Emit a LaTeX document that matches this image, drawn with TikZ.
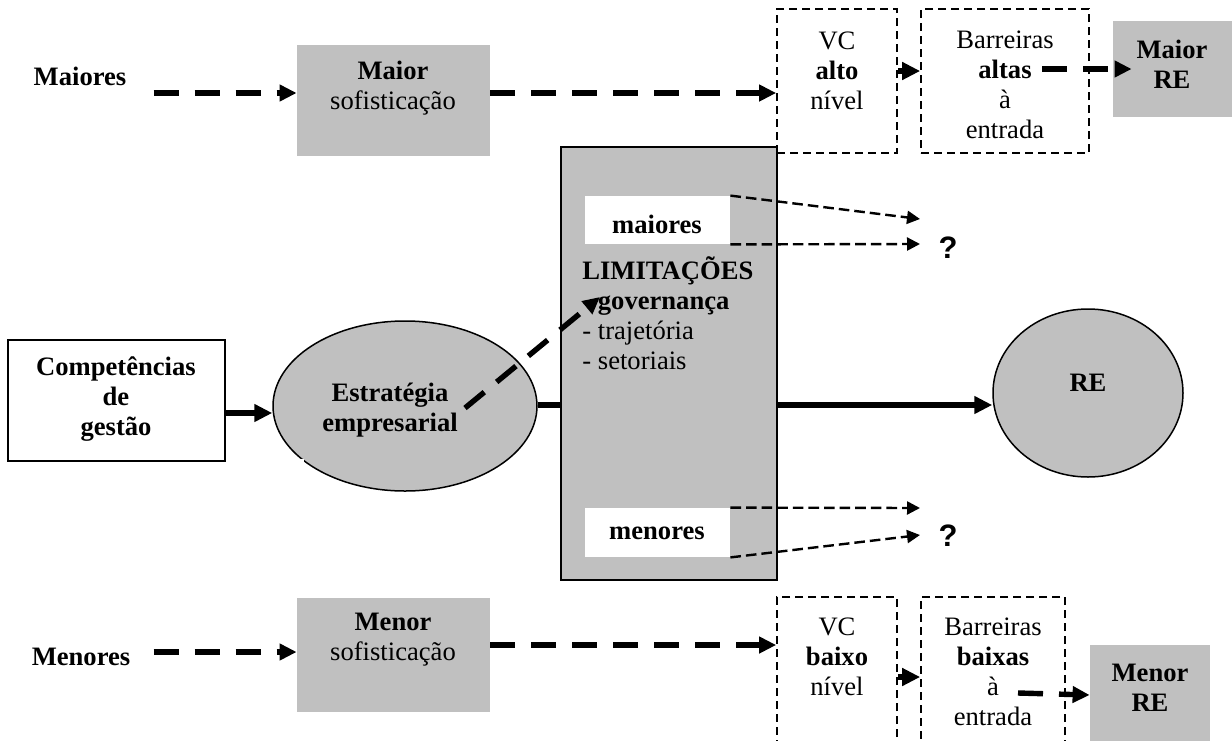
\documentclass[tikz,border=0pt]{standalone}
\usepackage{fontspec}
\setmainfont{Liberation Serif}
\newfontfamily\qfont{Liberation Sans}
\usetikzlibrary{arrows.meta,calc,fit,shapes.geometric}
\definecolor{boxgray}{HTML}{C0C0C0}
\tikzset{
  lbl/.style={inner sep=0pt, align=center, font=\fontsize{13.3}{15}\selectfont},
  blbl/.style={lbl, font=\fontsize{13.3}{15}\selectfont\bfseries},
  qmark/.style={inner sep=0pt, font=\qfont\fontsize{15.5}{18}\selectfont\bfseries},
  graybox/.style={fill=boxgray, inner sep=0pt},
  framebox/.style={draw, line width=1pt, inner sep=0pt},
  dashbox/.style={draw, line width=0.85pt, dash pattern=on 4pt off 2.5pt, inner sep=0pt},
  whitebox/.style={fill=white, inner sep=0pt},
  bolddash/.style={line width=2.7pt, dash pattern=on 12.5pt off 8pt,
    -{Triangle[length=8.5pt,width=8pt]}},
  solidarrow/.style={line width=2.6pt, -{Triangle[length=9pt,width=8.5pt]}},
  thinarrow/.style={line width=1.2pt, dash pattern=on 5.3pt off 2.5pt,
    -{Triangle[length=6.5pt,width=6.5pt]}},
  oval/.style={ellipse, draw, line width=0.75pt, fill=boxgray, inner sep=0pt},
}
\begin{document}
\begin{tikzpicture}[x=0.5pt,y=-0.5pt]
\clip (0,0) rectangle (1232,740);

% ---------- upper row ----------
\node[blbl] (maioresl) at (80,76) {Maiores};
\node[graybox, fit={(297,45)(490,156)}] (maiorbox) {};
\node[lbl] at (393,88) {\textbf{Maior}\\sofisticação};
\node[dashbox, fit={(777,9)(897,153)}] (vcA) {};
\node[lbl] at (837,71) {VC\\\textbf{alto}\\nível};
\node[dashbox, fit={(921,9)(1089,153)}] (barA) {};
\node[lbl] at (1005,85) {Barreiras\\\textbf{altas}\\à\\entrada};
\node[graybox, fit={(1113,21)(1240,117)}] (maiorRE) {};
\node[blbl] at (1172,64) {Maior\\RE};

% ---------- lower row ----------
\node[blbl] (menoresl) at (81,657) {Menores};
\node[graybox, fit={(297,598)(490,712)}] (menorbox) {};
\node[lbl] at (393,640) {\textbf{Menor}\\sofisticação};
\node[dashbox, fit={(777,597)(897,760)}] (vcB) {};
\node[lbl] at (837,657) {VC\\\textbf{baixo}\\nível};
\node[dashbox, fit={(921,597)(1065,760)}] (barB) {};
\node[lbl] at (993,672) {Barreiras\\\textbf{baixas}\\à\\entrada};
\node[graybox, fit={(1090,645)(1210,745)}] (menorRE) {};
\node[blbl] at (1150,688) {Menor\\RE};

% ---------- centre ----------
\node[framebox, fit={(8,340)(225,461)}] (comp) {};
\node[blbl] at (116,399) {Competências\\de\\gestão};
\node[oval, minimum width=132pt, minimum height=85pt] (estr) at (405,406) {};
\fill[white] (255,459) rectangle (304,505);
\node[blbl] at (390,410) {Estratégia\\empresarial};
\node[oval, minimum width=95pt, minimum height=84pt] (REell) at (1088,393) {};
\node[blbl] at (1088,383) {RE};

\coordinate (rowL) at (0,405);
\coordinate (rowM) at (0,413);
\draw[solidarrow] (estr.east|-rowL) -- (REell.west|-rowL);
\draw[solidarrow] (comp.east|-rowM) -- (estr.west|-rowM);

\node[draw, line width=1pt, fill=boxgray, inner sep=0pt, fit={(561,147)(777,580)}] (lim) {};
\node[whitebox, fit={(585,196)(730,244)}] (maioresbox) {};
\node[blbl] at (657,224) {maiores};
\node[whitebox, fit={(585,508)(730,557)}] (menoresbox) {};
\node[blbl] at (657,533) {menores};
\node[lbl, align=left, anchor=west] (limtxt) at (582,313)
  {\textbf{LIMITAÇÕES}\\- \textbf{governança}\\- trajetória\\- setoriais};

\node[qmark] (qA) at (948,248) {?};
\node[qmark] (qB) at (948,536) {?};

% ---------- connectors ----------
\coordinate (rowA) at (0,93);
\coordinate (rowB) at (0,71);
\coordinate (rowC) at (0,652);
\coordinate (rowD) at (0,645);
\coordinate (rowE) at (0,677);
\draw[bolddash] ($(maioresl.east|-rowA)+(27,0)$) -- (maiorbox.west|-rowA);
\draw[bolddash] (maiorbox.east|-rowA) -- (vcA.west|-rowA);
\draw[solidarrow] (vcA.east|-rowB) -- (barA.west|-rowB);
\coordinate (altasEnd) at (1042,69);
\draw[bolddash] (altasEnd) -- ([xshift=9.5pt]maiorRE.west);

\draw[bolddash] ($(menoresl.east|-rowC)+(23,0)$) -- (menorbox.west|-rowC);
\draw[bolddash] (menorbox.east|-rowD) -- (vcB.west|-rowD);
\draw[solidarrow] (vcB.east|-rowE) -- (barB.west|-rowE);
\coordinate (entradaEnd) at (1018,693);
\draw[bolddash] (entradaEnd) -- (menorRE.west);

\coordinate (qA1) at (920,219);
\coordinate (qA2) at (920,244);
\coordinate (qB1) at (920,508);
\coordinate (qB2) at (920,535);
\draw[thinarrow] (maioresbox.north east) -- (qA1);
\draw[thinarrow] (maioresbox.south east) -- (qA2);
\draw[thinarrow] (menoresbox.north east) -- (qB1);
\draw[thinarrow] (menoresbox.south east) -- (qB2);

\coordinate (stratTail) at (465,408);
\coordinate (govTip) at (600,297);
\draw[bolddash] (stratTail) -- (govTip);
\end{tikzpicture}
\end{document}
